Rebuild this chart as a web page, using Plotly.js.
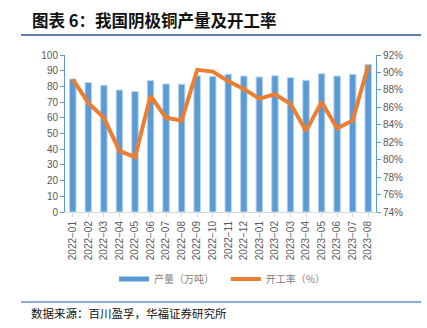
<!DOCTYPE html>
<html>
<head>
<meta charset="utf-8">
<script src="https://cdn.plot.ly/plotly-3.0.1.min.js"></script>
<style>html,body{margin:0;padding:0;background:#fff;}#chart{width:427px;height:328px;}</style>
</head>
<body>
<div id="chart"></div>
<script>
const months = ["2022−01","2022−02","2022−03","2022−04","2022−05","2022−06","2022−07","2022−08","2022−09","2022−10","2022−11","2022−12","2023−01","2023−02","2023−03","2023−04","2023−05","2023−06","2023−07","2023−08"];
const output = [84.7,82.4,80.7,77.7,76.7,83.7,81.6,81.4,86.8,86.4,87.7,86.6,86.0,86.8,85.6,83.9,88.1,86.6,87.7,94.1];
const utilization = [89.2,86.5,84.8,81.0,80.3,87.3,84.8,84.5,90.3,90.1,89.0,88.1,87.0,87.5,86.4,83.3,86.6,83.6,84.5,90.8];
const leftTicks = [0,10,20,30,40,50,60,70,80,90,100];
const rightTicks = [74,76,78,80,82,84,86,88,90,92];
const names = ["产量（万吨）","开工率（%）"];

const blue = "#5B9BD5", orange = "#ED7D31";
const cjk = "Noto Sans CJK SC, Liberation Sans, sans-serif";

const traces = [
  {type:"bar", x:months, y:output, yaxis:"y", marker:{color:blue, line:{color:"#BDD7EE", width:1}}, width:0.42, showlegend:false, hoverinfo:"skip"},
  {type:"scatter", mode:"lines", x:months, y:utilization, yaxis:"y2", line:{color:orange, width:4}, showlegend:false},
  {type:"scatter", mode:"lines", x:[null], y:[null], name:names[0] + "   ", line:{color:blue, width:5}},
  {type:"scatter", mode:"lines", x:[null], y:[null], name:names[1], line:{color:orange, width:4}}
];

const tickFont = {family:"Liberation Sans, Arial, sans-serif", size:10, color:"#595959"};

const layout = {
  width:427, height:328,
  margin:{l:65, r:51, t:55, b:116},
  paper_bgcolor:"#fff", plot_bgcolor:"#fff",
  bargap:0.5,
  xaxis:{type:"category", tickangle:-90, tickfont:tickFont, showgrid:false, showline:true, linecolor:"#D9D9D9", linewidth:1, ticks:"outside", ticklen:4, tickcolor:"#D9D9D9", range:[-0.5,19.5], zeroline:false},
  yaxis:{range:[0,100], tickvals:leftTicks, ticktext:leftTicks.map(String), tickfont:tickFont, showgrid:false, showline:true, linecolor:"#5B9BD5", linewidth:1, ticks:"outside", ticklen:4, tickcolor:"#5B9BD5", zeroline:false},
  yaxis2:{overlaying:"y", side:"right", range:[74,92], tickvals:rightTicks, ticktext:rightTicks.map(v=>v+"%"), tickfont:tickFont, showgrid:false, showline:true, linecolor:"#5B9BD5", linewidth:1, ticks:"outside", ticklen:4, tickcolor:"#5B9BD5", zeroline:false},
  legend:{orientation:"h", x:0.505, xanchor:"center", y:-0.427, yanchor:"middle", font:{family:cjk, size:10, color:"#7F7F7F"}, itemwidth:30, tracegroupgap:0},
  shapes:[
    {type:"line", xref:"paper", yref:"paper", x0:-0.1415, x1:1.145, y0:1.127, y1:1.127, line:{color:"#2F5597", width:1.5}},
    {type:"line", xref:"paper", yref:"paper", x0:-0.1415, x1:1.145, y0:-0.573, y1:-0.573, line:{color:"#8EA9DB", width:2}}
  ],
  annotations:[
    {xref:"paper", yref:"paper", x:-0.1125, y:1.223, xanchor:"left", yanchor:"middle", showarrow:false, text:"<b>图表 6：我国阴极铜产量及开工率</b>", font:{family:cjk, size:16.5, color:"#111"}},
    {xref:"paper", yref:"paper", x:-0.115, y:-0.643, xanchor:"left", yanchor:"middle", showarrow:false, text:"数据来源：百川盈孚，华福证券研究所", font:{family:cjk, size:11.5, color:"#111"}}
  ]
};

Plotly.newPlot("chart", traces, layout, {displayModeBar:false, staticPlot:true});
</script>
</body>
</html>
